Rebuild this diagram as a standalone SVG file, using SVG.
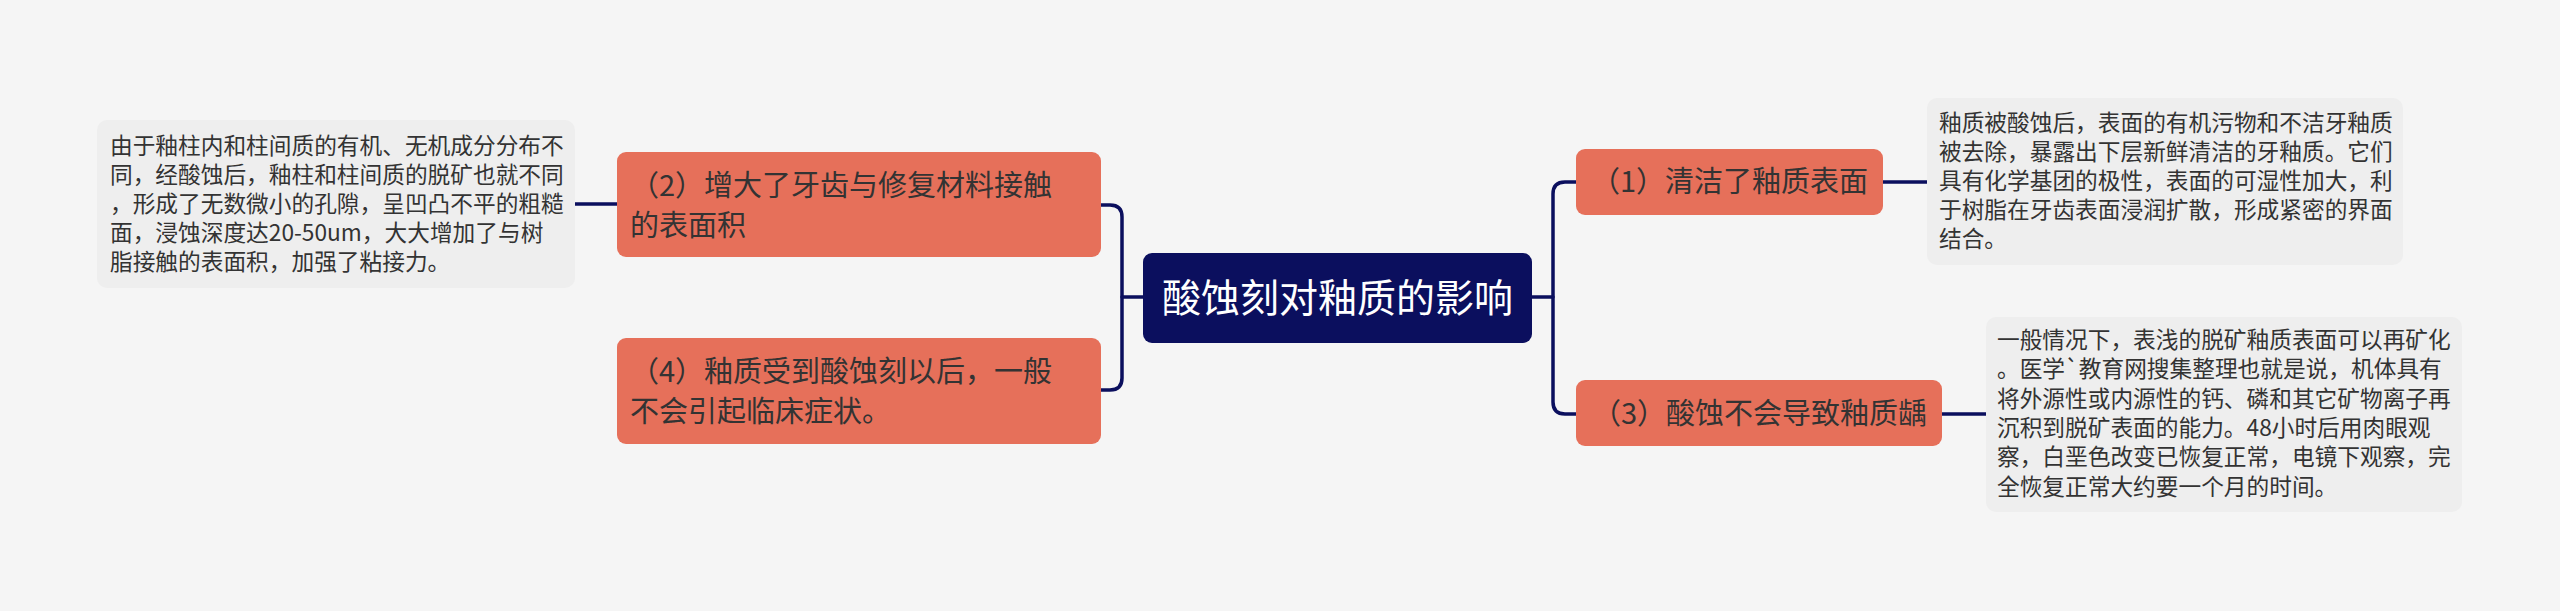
<svg xmlns="http://www.w3.org/2000/svg" width="2560" height="611" viewBox="0 0 2560 611">
<style>
.bg{fill:#f5f5f5}
.root{fill:#0b0f5e}
.topic{fill:#e6705a}
.note{fill:#eeeeee}
.conn{fill:none;stroke:#0b0f5e;stroke-width:3.5;stroke-linecap:round}
text{font-family:"Noto Sans CJK SC","Noto Sans",sans-serif}
.rt{font-size:39px;fill:#ffffff}
.tt{font-size:29px;fill:#333333}
.nt{font-size:22.7px;fill:#333333}
</style>
<rect class="bg" x="0" y="0" width="2560" height="611"/>
<g id="connectors">
<path class="conn" d="M575,204 H617"/>
<path class="conn" d="M1101,205 H1110 Q1122,205 1122,217 V378 Q1122,390 1110,390 H1101"/>
<path class="conn" d="M1122,297 H1143"/>
<path class="conn" d="M1532,297 H1553"/>
<path class="conn" d="M1576,182 H1565 Q1553,182 1553,194 V402 Q1553,414 1565,414 H1576"/>
<path class="conn" d="M1883,182 H1927"/>
<path class="conn" d="M1942,414 H1986"/>
</g>
<g id="root">
<rect class="root" x="1143" y="253" width="389" height="90" rx="9"/>
<text class="rt" x="1337.5" y="312" text-anchor="middle">酸蚀刻对釉质的影响</text>
</g>
<g id="node2">
<rect class="topic" x="617" y="152" width="484" height="105" rx="9"/>
<text class="tt" x="630" y="195.5">（2）增大了牙齿与修复材料接触</text>
<text class="tt" x="630" y="235.5">的表面积</text>
</g>
<g id="node4">
<rect class="topic" x="617" y="338" width="484" height="106" rx="9"/>
<text class="tt" x="630" y="382">（4）釉质受到酸蚀刻以后，一般</text>
<text class="tt" x="630" y="422">不会引起临床症状。</text>
</g>
<g id="node1">
<rect class="topic" x="1576" y="149" width="307" height="66" rx="9"/>
<text class="tt" x="1591" y="192">（1）清洁了釉质表面</text>
</g>
<g id="node3">
<rect class="topic" x="1576" y="380" width="366" height="66" rx="9"/>
<text class="tt" x="1592" y="424">（3）酸蚀不会导致釉质龋</text>
</g>
<g id="note2">
<rect class="note" x="97" y="120" width="478" height="168" rx="10"/>
<text class="nt" x="110" y="154">由于釉柱内和柱间质的有机、无机成分分布不</text>
<text class="nt" x="110" y="183">同，经酸蚀后，釉柱和柱间质的脱矿也就不同</text>
<text class="nt" x="110" y="212">，形成了无数微小的孔隙，呈凹凸不平的粗糙</text>
<text class="nt" x="110" y="241">面，浸蚀深度达20-50um，大大增加了与树</text>
<text class="nt" x="110" y="270">脂接触的表面积，加强了粘接力。</text>
</g>
<g id="note1">
<rect class="note" x="1927" y="98" width="476" height="167" rx="10"/>
<text class="nt" x="1939" y="131">釉质被酸蚀后，表面的有机污物和不洁牙釉质</text>
<text class="nt" x="1939" y="160">被去除，暴露出下层新鲜清洁的牙釉质。它们</text>
<text class="nt" x="1939" y="189">具有化学基团的极性，表面的可湿性加大，利</text>
<text class="nt" x="1939" y="218">于树脂在牙齿表面浸润扩散，形成紧密的界面</text>
<text class="nt" x="1939" y="247">结合。</text>
</g>
<g id="note3">
<rect class="note" x="1986" y="317" width="476" height="195" rx="10"/>
<text class="nt" x="1997" y="348">一般情况下，表浅的脱矿釉质表面可以再矿化</text>
<text class="nt" x="1997" y="377.3">。医学`教育网搜集整理也就是说，机体具有</text>
<text class="nt" x="1997" y="406.6">将外源性或内源性的钙、磷和其它矿物离子再</text>
<text class="nt" x="1997" y="435.9">沉积到脱矿表面的能力。48小时后用肉眼观</text>
<text class="nt" x="1997" y="465.2">察，白垩色改变已恢复正常，电镜下观察，完</text>
<text class="nt" x="1997" y="494.5">全恢复正常大约要一个月的时间。</text>
</g>
</svg>
